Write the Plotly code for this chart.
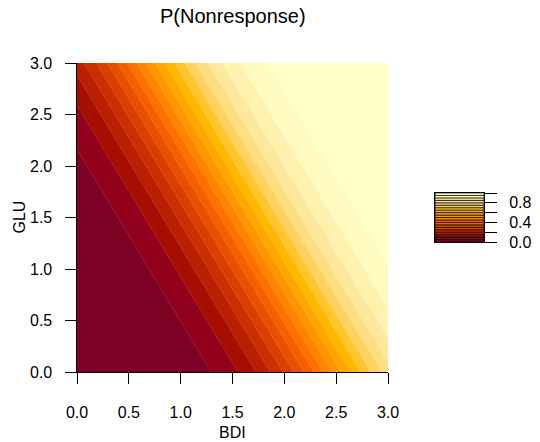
import math
import numpy as np
import plotly.graph_objects as go

# ---- data ----
bdi_grid = np.linspace(0.0, 3.0, 151)          # BDI axis grid
glu_grid = np.linspace(0.0, 3.0, 151)          # GLU axis grid
# probit-type surface whose contours match the picture
intercept = -3.47
coef_bdi = 1.41
coef_glu = 0.845
levels = [0.00, 0.05, 0.10, 0.15, 0.20, 0.25, 0.30, 0.35, 0.40, 0.45, 0.50,
          0.55, 0.60, 0.65, 0.70, 0.75, 0.80, 0.85, 0.90, 0.95, 1.00]
x_ticks = [0.0, 0.5, 1.0, 1.5, 2.0, 2.5, 3.0]
x_tick_labels = ["0.0", "0.5", "1.0", "1.5", "2.0", "2.5", "3.0"]
y_ticks = [0.0, 0.5, 1.0, 1.5, 2.0, 2.5, 3.0]
y_tick_labels = ["0.0", "0.5", "1.0", "1.5", "2.0", "2.5", "3.0"]
key_ticks = [0.0, 0.2, 0.4, 0.6, 0.8, 1.0]
key_tick_labels = ["0.0", "", "0.4", "", "0.8", ""]
title_text = "P(Nonresponse)"
x_title = "BDI"
y_title = "GLU"


def Phi(v):
    return 0.5 * (1.0 + math.erf(v / math.sqrt(2.0)))


eta = intercept + coef_bdi * bdi_grid[None, :] + coef_glu * glu_grid[:, None]
Z = np.vectorize(Phi)(eta)


# ---- HCL "YlOrRd" sequential palette (as R's hcl.colors) ----
def hcl_to_hex(h, c, l):
    WX, WY, WZ = 95.047, 100.000, 108.883
    if l <= 0:
        return "#000000"
    hr = math.radians(h)
    U = c * math.cos(hr)
    V = c * math.sin(hr)
    Y = WY * (((l + 16) / 116) ** 3 if l > 7.999592 else l / 903.3)
    t = WX + WY + WZ
    x = WX / t
    y = WY / t
    uN = 2 * x / (6 * y - x + 1.5)
    vN = 4.5 * y / (6 * y - x + 1.5)
    u = U / (13 * l) + uN
    v = V / (13 * l) + vN
    X = 9.0 * Y * u / (4 * v)
    Zc = -X / 3 - 5 * Y + 3 * Y / v
    r = (3.240479 * X - 1.537150 * Y - 0.498535 * Zc) / WY
    g = (-0.969256 * X + 1.875992 * Y + 0.041556 * Zc) / WY
    b = (0.055648 * X - 0.204043 * Y + 1.057311 * Zc) / WY

    def gt(q):
        return 1.055 * q ** (1 / 2.4) - 0.055 if q > 0.0031308 else 12.92 * q

    vals = [min(1.0, max(0.0, gt(q))) for q in (r, g, b)]
    return "#%02X%02X%02X" % tuple(int(round(255 * q)) for q in vals)


def ylorrd(n):
    h1, h2, c1, c2, l1, l2, p1, p2, cmax = 5, 85, 75, 40, 25, 99, 1.6, 1.3, 180
    j = 1 / (1 + abs(cmax - c1) / abs(cmax - c2))
    out = []
    for i in np.linspace(1, 0, n):
        h = h2 - (h2 - h1) * i
        if i <= j:
            c = c2 - (c2 - cmax) * (i / j) ** p1
        else:
            c = cmax - (cmax - c1) * ((i - j) / (1 - j)) ** p1
        l = l2 - (l2 - l1) * i ** p2
        out.append(hcl_to_hex(h, c, l))
    return out


nb = len(levels) - 1
palette = ylorrd(nb)
colorscale = [[k / (nb - 1), palette[k]] for k in range(nb)]

FONT = "Liberation Sans, Arial, Helvetica, sans-serif"
W, H = 540, 442
px_l, px_r, px_t, px_b = 77, 388, 63, 372
key_l, key_r, key_t, key_b = 435, 484, 193, 242
ylab_right = 53

fig = go.Figure()
fig.add_trace(go.Contour(
    x=bdi_grid, y=glu_grid, z=Z,
    autocontour=False,
    contours=dict(start=levels[1], end=levels[-2], size=levels[1] - levels[0],
                  coloring="fill", showlines=True),
    line=dict(width=0.6, color="rgba(255,255,255,0.22)", smoothing=0),
    colorscale=colorscale,
    showscale=False,
    hoverinfo="skip",
))

fig.add_trace(go.Bar(
    x=[0] * nb, y=list(np.diff(levels)), base=levels[:-1], width=1,
    marker=dict(color=palette, line=dict(color="black", width=0.7)),
    xaxis="x2", yaxis="y2", showlegend=False, hoverinfo="skip",
))

axis_common = dict(showgrid=False, zeroline=False, showline=True, linecolor="black",
                   linewidth=1, ticks="outside", ticklen=11, tickwidth=1, automargin=False,
                   tickcolor="black", tickfont=dict(family=FONT, size=16, color="black"))

annotations = [
    dict(text=title_text, x=(px_l + px_r) / 2 / W, y=(H - 16) / H, xref="paper",
         yref="paper", showarrow=False, xanchor="center", yanchor="middle",
         font=dict(family=FONT, size=20, color="black")),
    dict(text=x_title, x=(px_l + px_r) / 2 / W, y=(H - 432) / H, xref="paper",
         yref="paper", showarrow=False, xanchor="center", yanchor="middle",
         font=dict(family=FONT, size=16, color="black")),
    dict(text=y_title, x=19 / W, y=(H - (px_t + px_b) / 2) / H, xref="paper",
         yref="paper", showarrow=False, xanchor="center", yanchor="middle",
         textangle=-90, font=dict(family=FONT, size=16, color="black")),
]
for v, s in zip(y_ticks, y_tick_labels):
    annotations.append(dict(text=s, x=ylab_right / W, y=v, xref="paper", yref="y",
                            showarrow=False, xanchor="right", yanchor="middle",
                            borderpad=0, font=dict(family=FONT, size=16, color="black")))

fig.update_layout(
    width=W, height=H,
    margin=dict(l=0, r=0, t=0, b=0, autoexpand=False),
    paper_bgcolor="white", plot_bgcolor="white",
    showlegend=False,
    xaxis=dict(domain=[px_l / W, px_r / W], range=[0, 3], tickvals=x_ticks,
               ticktext=x_tick_labels, anchor="y", ticklabelstandoff=15, **axis_common),
    yaxis=dict(domain=[(H - px_b) / H, (H - px_t) / H], range=[0, 3], tickvals=y_ticks,
               showticklabels=False, anchor="x", **axis_common),
    xaxis2=dict(domain=[key_l / W, key_r / W], range=[-0.5, 0.5], anchor="y2",
                showgrid=False, zeroline=False, showline=True, mirror=True, automargin=False,
                linecolor="black", linewidth=1, showticklabels=False, ticks=""),
    yaxis2=dict(domain=[(H - key_b) / H, (H - key_t) / H], range=[0, 1], anchor="x2",
                side="right", showgrid=False, zeroline=False, showline=True, mirror=True,
                automargin=False,
                linecolor="black", linewidth=1, ticks="outside", ticklen=12,
                tickcolor="black", tickvals=key_ticks, ticktext=key_tick_labels,
                ticklabelstandoff=9,
                tickfont=dict(family=FONT, size=16, color="black")),
    annotations=annotations,
)

fig.write_html("out.html", config={"displayModeBar": False},
               post_script="document.body.style.margin='0';document.body.style.overflow='hidden';")
